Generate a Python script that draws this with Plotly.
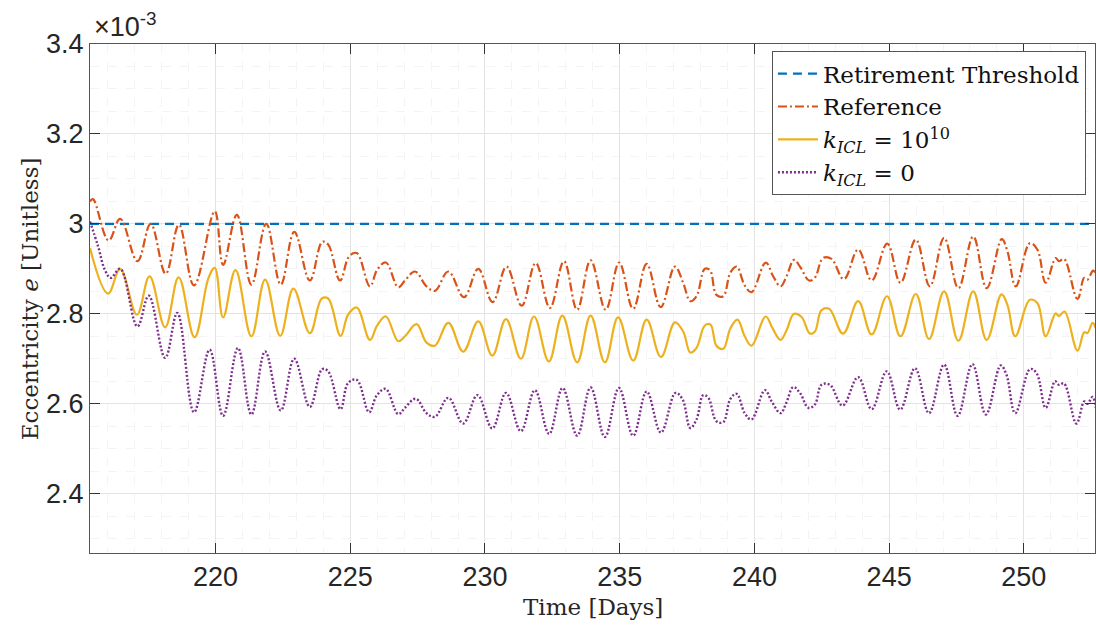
import plotly.graph_objects as go

# ---- data (eccentricity in units of 1e-3) ----
thr_t = [215.34, 252.67]
thr_v = [3.0, 3.0]

ref_t = [215.34, 215.45, 216.03, 216.46, 217.10, 217.59, 218.15, 218.64, 219.20, 219.97,
         220.28, 220.79, 221.33, 221.88, 222.42, 222.92, 223.50, 223.96, 224.18, 224.62,
         224.96, 225.24, 225.73, 226.00, 226.32, 226.78, 227.03, 227.40, 227.83, 228.14,
         228.64, 229.22, 229.75, 230.28, 230.80, 231.36, 231.88, 232.41, 232.93, 233.42,
         233.92, 234.48, 234.98, 235.50, 236.00, 236.52, 237.05, 237.36, 237.62, 237.85,
         238.16, 238.35, 238.59, 238.84, 239.11, 239.34, 239.64, 239.89, 240.42, 240.70,
         240.97, 241.19, 241.47, 241.69, 242.03, 242.24, 242.55, 242.86, 243.32, 243.85,
         244.35, 244.93, 245.42, 245.99, 246.51, 247.04, 247.57, 248.12, 248.62, 249.18,
         249.39, 249.70, 250.22, 250.50, 250.81, 251.18, 251.30, 251.49, 251.99, 252.24,
         252.36, 252.57, 252.67]
ref_v = [3.050, 3.055, 2.963, 3.011, 2.917, 3.000, 2.889, 2.998, 2.863, 3.028,
         2.909, 3.020, 2.865, 3.000, 2.865, 2.982, 2.874, 2.960, 2.954, 2.874,
         2.928, 2.935, 2.861, 2.898, 2.914, 2.859, 2.874, 2.894, 2.861, 2.851,
         2.894, 2.837, 2.900, 2.826, 2.905, 2.818, 2.913, 2.813, 2.917, 2.809,
         2.919, 2.809, 2.914, 2.811, 2.911, 2.815, 2.905, 2.868, 2.828, 2.839,
         2.900, 2.897, 2.842, 2.839, 2.892, 2.905, 2.863, 2.848, 2.914, 2.883,
         2.861, 2.883, 2.920, 2.905, 2.874, 2.880, 2.924, 2.922, 2.877, 2.943,
         2.874, 2.956, 2.869, 2.965, 2.861, 2.969, 2.857, 2.972, 2.857, 2.966,
         2.939, 2.861, 2.957, 2.943, 2.869, 2.924, 2.917, 2.922, 2.833, 2.880,
         2.876, 2.896, 2.889]

k10_t = [215.34, 216.01, 216.46, 217.08, 217.55, 218.13, 218.63, 219.22, 219.74, 219.97,
         220.28, 220.74, 221.33, 221.84, 222.40, 222.89, 223.50, 223.94, 224.18, 224.64,
         224.92, 225.24, 225.73, 226.00, 226.32, 226.78, 227.03, 227.46, 227.83, 228.14,
         228.64, 229.19, 229.75, 230.27, 230.78, 231.33, 231.82, 232.37, 232.87, 233.42,
         233.92, 234.45, 234.94, 235.50, 236.00, 236.53, 237.05, 237.36, 237.62, 237.85,
         238.16, 238.37, 238.59, 238.84, 239.11, 239.37, 239.64, 239.89, 240.42, 240.67,
         240.97, 241.19, 241.47, 241.75, 242.06, 242.24, 242.49, 242.77, 243.29, 243.85,
         244.35, 244.92, 245.42, 245.99, 246.48, 247.04, 247.57, 248.12, 248.62, 249.17,
         249.39, 249.68, 250.22, 250.50, 250.81, 251.18, 251.30, 251.51, 251.99, 252.24,
         252.36, 252.55, 252.67]
k10_v = [2.946, 2.845, 2.900, 2.798, 2.883, 2.770, 2.881, 2.748, 2.880, 2.902,
         2.792, 2.897, 2.750, 2.876, 2.751, 2.856, 2.757, 2.834, 2.834, 2.751,
         2.798, 2.814, 2.742, 2.774, 2.794, 2.739, 2.750, 2.777, 2.736, 2.729,
         2.780, 2.716, 2.783, 2.707, 2.788, 2.700, 2.794, 2.694, 2.796, 2.692,
         2.796, 2.692, 2.792, 2.696, 2.787, 2.704, 2.781, 2.760, 2.714, 2.724,
         2.774, 2.776, 2.729, 2.722, 2.768, 2.787, 2.750, 2.729, 2.794, 2.768,
         2.742, 2.763, 2.800, 2.793, 2.756, 2.760, 2.808, 2.811, 2.756, 2.828,
         2.754, 2.839, 2.750, 2.844, 2.744, 2.850, 2.740, 2.850, 2.742, 2.843,
         2.820, 2.750, 2.831, 2.824, 2.750, 2.801, 2.795, 2.805, 2.718, 2.759,
         2.757, 2.780, 2.768]

k0_t = [215.34, 215.64, 215.89, 216.11, 216.46, 217.10, 217.52, 218.13, 218.58, 219.20,
        219.78, 220.28, 220.83, 221.33, 221.84, 222.42, 222.92, 223.50, 223.96, 224.18,
        224.64, 224.92, 225.24, 225.70, 225.98, 226.31, 226.78, 227.03, 227.43, 227.83,
        228.14, 228.64, 229.19, 229.72, 230.27, 230.78, 231.33, 231.85, 232.38, 232.88,
        233.42, 233.92, 234.45, 234.97, 235.50, 236.00, 236.53, 237.07, 237.33, 237.62,
        237.85, 238.10, 238.29, 238.59, 238.84, 239.11, 239.34, 239.64, 239.89, 240.39,
        240.64, 240.97, 241.19, 241.44, 241.69, 242.00, 242.24, 242.49, 242.80, 243.27,
        243.85, 244.35, 244.91, 245.41, 245.96, 246.48, 247.04, 247.54, 248.09, 248.59,
        249.14, 249.35, 249.68, 250.23, 250.47, 250.81, 251.16, 251.30, 251.49, 251.95,
        252.24, 252.36, 252.55, 252.67]
k0_v = [3.005, 2.950, 2.898, 2.880, 2.900, 2.772, 2.840, 2.702, 2.802, 2.581,
        2.720, 2.573, 2.724, 2.576, 2.716, 2.585, 2.700, 2.593, 2.677, 2.672,
        2.588, 2.646, 2.653, 2.581, 2.618, 2.633, 2.577, 2.591, 2.611, 2.579,
        2.571, 2.613, 2.556, 2.619, 2.545, 2.624, 2.539, 2.630, 2.533, 2.635,
        2.529, 2.636, 2.526, 2.635, 2.529, 2.627, 2.536, 2.624, 2.610, 2.546,
        2.565, 2.619, 2.613, 2.561, 2.559, 2.611, 2.622, 2.579, 2.565, 2.630,
        2.605, 2.579, 2.603, 2.637, 2.624, 2.591, 2.598, 2.642, 2.642, 2.596,
        2.659, 2.588, 2.672, 2.587, 2.679, 2.579, 2.687, 2.573, 2.688, 2.576,
        2.685, 2.665, 2.579, 2.677, 2.668, 2.591, 2.650, 2.642, 2.645, 2.556,
        2.605, 2.600, 2.615, 2.591]

x_ticks = [220, 225, 230, 235, 240, 245, 250]
y_ticks = [2.4, 2.6, 2.8, 3.0, 3.2, 3.4]
y_ticktext = ["2.4", "2.6", "2.8", "3", "3.2", "3.4"]

names = ["Retirement Threshold", "Reference",
         "<i>k</i><sub><i>ICL</i></sub> = 10<sup>10</sup>",
         "<i>k</i><sub><i>ICL</i></sub> = 0"]

SERIF = "DejaVu Serif, serif"
SANS = "Liberation Sans, Arial"

fig = go.Figure()
fig.add_trace(go.Scatter(x=thr_t, y=thr_v, mode="lines", name=names[0],
                         line=dict(color="#0072BD", width=2.2, dash="9px,6px")))
fig.add_trace(go.Scatter(x=ref_t, y=ref_v, mode="lines", name=names[1],
                         line=dict(color="#D95319", width=2.2, dash="9px,3px,2px,3px",
                                   shape="spline", smoothing=1.1)))
fig.add_trace(go.Scatter(x=k10_t, y=k10_v, mode="lines", name=names[2],
                         line=dict(color="#EDB120", width=2.2,
                                   shape="spline", smoothing=1.1)))
fig.add_trace(go.Scatter(x=k0_t, y=k0_v, mode="lines", name=names[3],
                         line=dict(color="#7E2F8E", width=2.4, dash="2px,2px",
                                   shape="spline", smoothing=1.1)))

axis_common = dict(showline=True, linecolor="#555555", linewidth=1, mirror="ticks",
                   ticks="inside", ticklen=10, tickcolor="#333333", tickwidth=1,
                   showgrid=True, gridcolor="#e3e3e3", gridwidth=1, zeroline=False,
                   tickfont=dict(family=SANS, size=27, color="#262626"))

fig.update_xaxes(range=[215.34, 252.64], tickvals=x_ticks,
                 minor=dict(dtick=1, tick0=215, showgrid=True, gridcolor="#f4f4f4",
                            griddash="dash", ticks=""),
                 **axis_common)
fig.update_yaxes(range=[2.268, 3.4], tickvals=y_ticks, ticktext=y_ticktext,
                 minor=dict(dtick=0.05, tick0=2.4, showgrid=True, gridcolor="#f4f4f4",
                            griddash="dash", ticks=""),
                 **axis_common)

fig.update_layout(
    width=1096, height=630,
    margin=dict(l=90, r=1, t=44, b=77),
    plot_bgcolor="white", paper_bgcolor="white",
    showlegend=True,
    legend=dict(x=0.991, y=0.986, xanchor="right", yanchor="top",
                bgcolor="white", bordercolor="#555555", borderwidth=1,
                font=dict(family=SERIF, size=23, color="#111111"),
                itemwidth=40, tracegroupgap=0),
    annotations=[
        dict(text="×10<sup>-3</sup>", xref="paper", yref="paper", x=0.002, y=1.0,
             xanchor="left", yanchor="bottom", showarrow=False,
             font=dict(family=SANS, size=27, color="#262626")),
        dict(text="Eccentricity <i>e</i> [Unitless]", xref="paper", yref="paper",
             x=-0.06, y=0.5, xanchor="center", yanchor="middle", textangle=-90,
             showarrow=False,
             font=dict(family=SERIF, size=23, color="#262626")),
        dict(text="Time [Days]", xref="paper", yref="paper", x=0.5, y=-0.106,
             xanchor="center", yanchor="middle", showarrow=False,
             font=dict(family=SERIF, size=23, color="#262626")),
    ],
)

fig.write_html("out.html")
